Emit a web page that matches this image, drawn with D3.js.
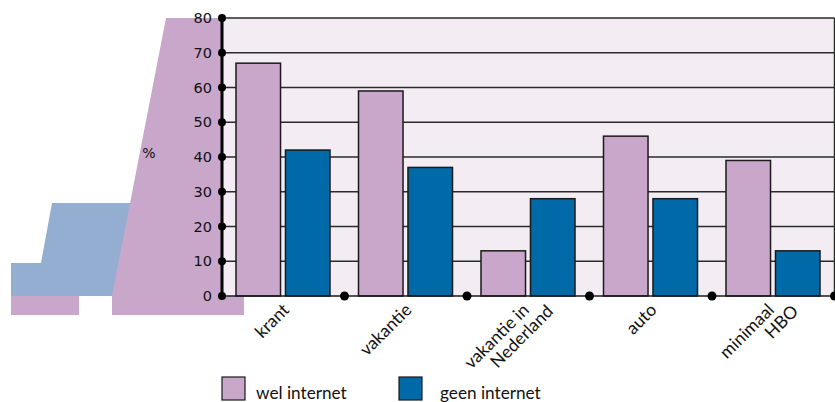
<!DOCTYPE html>
<html><head><meta charset="utf-8">
<script src="https://cdn.jsdelivr.net/npm/d3@7"></script>
<style>html,body{margin:0;padding:0;background:#fff;overflow:hidden}svg{display:block}</style>
</head><body>
<svg id="c" width="835" height="402"></svg>
<script>
const categories = [["krant"], ["vakantie"], ["vakantie in", "Nederland"], ["auto"], ["minimaal", "HBO"]];
const series = ["wel internet", "geen internet"];
const welInternet = [67, 59, 13, 46, 39];
const geenInternet = [42, 37, 28, 28, 13];
const yTicks = [0, 10, 20, 30, 40, 50, 60, 70, 80];
const yLabel = "%";

const svg = d3.select("#c");
const PURPLE = "#c9a7ca", BLUE = "#006aa8", BG = "#f3ecf3", DECOR = "#93aed1";
const L = 222, R = 834.5, T = 18, B = 296;

// decoration
svg.append("polygon").attr("points", "52,203 200,203 200,296 11,296 11,263 41,263").attr("fill", DECOR);
svg.append("polygon").attr("points", "166,18 230,18 230,296 244,296 244,315 112,315 112,296").attr("fill", PURPLE);
svg.append("rect").attr("x", 11).attr("y", 296).attr("width", 68).attr("height", 19).attr("fill", PURPLE);

const keys = categories.map(c => c.join(" "));
const x0 = d3.scaleBand().domain(keys).range([L, R]);
const x1 = d3.scaleBand().domain(series).range([14, x0.bandwidth() - 14.5]).paddingInner(0.1);
const y = d3.scaleLinear().domain([0, 80]).range([B, T]);

svg.append("rect").attr("x", L).attr("y", T).attr("width", R - L).attr("height", B - T).attr("fill", BG);

// gridlines
svg.append("g").selectAll("line").data(yTicks.slice(1)).join("line")
  .attr("x1", L).attr("x2", R).attr("y1", d => y(d)).attr("y2", d => y(d))
  .attr("stroke", "#2a2a2a").attr("stroke-width", 1.5);
svg.append("line").attr("x1", R).attr("x2", R).attr("y1", T).attr("y2", B).attr("stroke", "#2a2a2a").attr("stroke-width", 1.5);

// bars
const vals = [welInternet, geenInternet];
const colors = [PURPLE, BLUE];
series.forEach((s, si) => {
  svg.append("g").selectAll("rect").data(vals[si]).join("rect")
    .attr("x", (d, i) => x0(keys[i]) + x1(s))
    .attr("y", d => y(d))
    .attr("width", x1.bandwidth())
    .attr("height", d => y(0) - y(d))
    .attr("fill", colors[si]).attr("stroke", "#1a1a1a").attr("stroke-width", 1.5);
});

// x axis line
svg.append("line").attr("x1", L).attr("x2", R).attr("y1", B).attr("y2", B).attr("stroke", "#1a1a1a").attr("stroke-width", 1.5);
// y axis
svg.append("line").attr("x1", L).attr("x2", L).attr("y1", T).attr("y2", B).attr("stroke", "#000").attr("stroke-width", 3);
svg.append("g").selectAll("circle").data(yTicks).join("circle")
  .attr("cx", L).attr("cy", d => y(d)).attr("r", 4).attr("fill", "#000");
svg.append("g").selectAll("text").data(yTicks).join("text")
  .attr("x", 212).attr("y", d => y(d)).attr("dy", "0.36em").attr("text-anchor", "end")
  .attr("font-family", "DejaVu Sans").attr("font-size", 14.5).attr("fill", "#111").text(d => d);
svg.append("text").attr("x", 149).attr("y", 153).attr("dy", "0.36em").attr("text-anchor", "middle")
  .attr("font-family", "DejaVu Sans").attr("font-size", 14).attr("fill", "#111").text(yLabel);

// x boundary dots
const bounds = keys.map(k => x0(k) + x0.bandwidth());
svg.append("g").selectAll("circle").data(bounds).join("circle")
  .attr("cx", d => d).attr("cy", B).attr("r", 4.5).attr("fill", "#000");

// x labels
const lab = svg.append("g").selectAll("text").data(categories).join("text")
  .attr("transform", (d, i) => `translate(${x0(keys[i]) + x0.bandwidth() / 2 + (d.length > 1 ? 2 : 7)},${B + 15}) rotate(-45)`)
  .attr("text-anchor", "end").attr("font-family", "Lato").attr("font-size", 17.5).attr("fill", "#111");
lab.each(function(d) {
  const t = d3.select(this);
  d.forEach((line, j) => {
    t.append("tspan").attr("x", j * 16).attr("y", j * 18).text(line);
  });
});

// legend
series.forEach((s, si) => {
  const lx = si === 0 ? 222 : 399;
  svg.append("rect").attr("x", lx).attr("y", 377).attr("width", 23).attr("height", 23)
    .attr("fill", colors[si]).attr("stroke", "#1a1a1a").attr("stroke-width", 1.2);
  svg.append("text").attr("x", si === 0 ? 256 : 440).attr("y", 399)
    .attr("font-family", "Lato").attr("font-size", 17.2).attr("fill", "#111").text(s);
});
</script>
</body></html>
